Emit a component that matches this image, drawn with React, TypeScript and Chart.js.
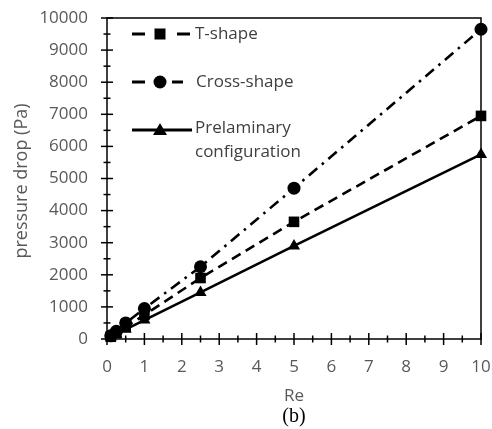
import React, { useEffect, useRef } from 'react';
import { Chart, registerables } from 'chart.js';

Chart.register(...registerables);

const reValues = [0.1, 0.25, 0.5, 1, 2.5, 5, 10];
const tShape = [70, 180, 380, 750, 1900, 3650, 6950];
const crossShape = [100, 240, 500, 950, 2250, 4700, 9650];
const prelaminary = [60, 150, 300, 590, 1450, 2900, 5750];
const seriesLabels: (string | string[])[] = ['T-shape', 'Cross-shape', ['Prelaminary', 'configuration']];
const xTickValues = [0, 1, 2, 3, 4, 5, 6, 7, 8, 9, 10];
const yTickValues = [0, 1000, 2000, 3000, 4000, 5000, 6000, 7000, 8000, 9000, 10000];
const xTitle = 'Re';
const yTitle = 'pressure drop (Pa)';
const caption = '(b)';

const FONT = '"Open Sans", sans-serif';
const GREY = '#595959';

function drawMarker(ctx: CanvasRenderingContext2D, style: string, x: number, y: number) {
  ctx.save();
  ctx.fillStyle = '#000';
  ctx.beginPath();
  if (style === 'rect') {
    ctx.rect(x - 5.5, y - 5.5, 11, 11);
  } else if (style === 'circle') {
    ctx.arc(x, y, 6.5, 0, Math.PI * 2);
  } else {
    ctx.moveTo(x, y - 7);
    ctx.lineTo(x + 7, y + 5);
    ctx.lineTo(x - 7, y + 5);
    ctx.closePath();
  }
  ctx.fill();
  ctx.restore();
}

const overlay = {
  id: 'overlay',
  beforeDatasetsDraw(chart: any) {
    const { ctx, chartArea: a, scales } = chart;
    const x = scales.x, y = scales.y;
    ctx.save();
    ctx.strokeStyle = '#000';
    ctx.lineWidth = 1.5;
    ctx.strokeRect(a.left, a.top, a.right - a.left, a.bottom - a.top);
    const seg = (x1: number, y1: number, x2: number, y2: number) => {
      ctx.beginPath();
      ctx.moveTo(x1, y1);
      ctx.lineTo(x2, y2);
      ctx.stroke();
    };
    for (let i = 0; i < xTickValues.length; i++) {
      const v = xTickValues[i];
      const px = x.getPixelForValue(v);
      seg(px, a.bottom - 6, px, a.bottom + 6);
      if (i < xTickValues.length - 1) {
        const m = x.getPixelForValue((v + xTickValues[i + 1]) / 2);
        seg(m, a.bottom - 3.5, m, a.bottom + 3.5);
      }
    }
    for (let i = 0; i < yTickValues.length; i++) {
      const v = yTickValues[i];
      const py = y.getPixelForValue(v);
      seg(a.left - 6, py, a.left + 6, py);
      if (i < yTickValues.length - 1) {
        const m = y.getPixelForValue((v + yTickValues[i + 1]) / 2);
        seg(a.left - 3.5, m, a.left + 3.5, m);
      }
    }
    ctx.restore();
  },
  afterDraw(chart: any) {
    const { ctx, chartArea: a } = chart;
    ctx.save();
    ctx.fillStyle = GREY;
    ctx.font = `17px ${FONT}`;
    ctx.textAlign = 'center';
    ctx.textBaseline = 'middle';
    ctx.fillText(xTitle, (a.left + a.right) / 2, 396);
    ctx.save();
    ctx.font = `18px ${FONT}`;
    ctx.translate(22, 181);
    ctx.rotate(-Math.PI / 2);
    ctx.fillText(yTitle, 0, 0);
    ctx.restore();
    ctx.fillStyle = '#000';
    ctx.font = '20px "Liberation Serif", serif';
    ctx.fillText(caption, (a.left + a.right) / 2, 417);

    const rows = [34, 82, 130];
    const styles = ['rect', 'circle', 'triangle'];
    ctx.strokeStyle = '#000';
    ctx.lineWidth = 3;
    ctx.lineCap = 'butt';
    const lx = a.left + 25;
    for (let i = 0; i < 3; i++) {
      const yy = rows[i];
      ctx.beginPath();
      if (i === 2) {
        ctx.moveTo(lx, yy);
        ctx.lineTo(lx + 60, yy);
      } else if (i === 0) {
        ctx.moveTo(lx, yy); ctx.lineTo(lx + 13, yy);
        ctx.moveTo(lx + 45, yy); ctx.lineTo(lx + 58, yy);
      } else {
        ctx.moveTo(lx, yy); ctx.lineTo(lx + 13, yy);
        ctx.moveTo(lx + 40, yy); ctx.lineTo(lx + 51, yy);
      }
      ctx.stroke();
      drawMarker(ctx, styles[i], lx + 28, yy);
      ctx.fillStyle = '#404040';
      ctx.font = `17px ${FONT}`;
      ctx.textAlign = 'left';
      ctx.textBaseline = 'middle';
      const lab = seriesLabels[i];
      if (Array.isArray(lab)) {
        lab.forEach((t, k) => ctx.fillText(t, lx + 63, yy - 2 + k * 24));
      } else {
        ctx.fillText(lab, lx + (i === 0 ? 63 : 64), yy);
      }
    }
    ctx.restore();
  },
};

export default function App() {
  const ref = useRef<HTMLCanvasElement>(null);
  useEffect(() => {
    if (!ref.current) return;
    const mk = (data: number[], dash: number[], style: string, radius: number) => ({
      data: reValues.map((r, i) => ({ x: r, y: data[i] })),
      borderColor: '#000',
      backgroundColor: '#000',
      borderWidth: 2.6,
      borderDash: dash,
      pointStyle: style,
      pointRadius: radius,
      pointBorderWidth: 0,
      pointBackgroundColor: '#000',
      showLine: true,
      clip: false as any,
    });
    const chart = new Chart(ref.current, {
      type: 'scatter',
      data: {
        datasets: [
          { label: 'T-shape', ...mk(tShape, [10, 6], 'rect', 7.5) },
          { label: 'Cross-shape', ...mk(crossShape, [11, 6, 2.5, 6], 'circle', 6.5) },
          { label: 'Prelaminary configuration', ...mk(prelaminary, [], 'triangle', 7) },
        ] as any,
      },
      options: {
        animation: false,
        responsive: false,
        devicePixelRatio: 1,
        layout: { padding: { left: 0, top: 18, right: 11, bottom: 0 } },
        plugins: { legend: { display: false }, tooltip: { enabled: false } },
        scales: {
          x: {
            type: 'linear',
            min: 0,
            max: 10,
            afterFit: (s: any) => { s.height = 90; s.paddingLeft = 0; s.paddingRight = 0; },
            afterBuildTicks: (s: any) => { s.ticks = xTickValues.map((v) => ({ value: v })); },
            grid: { display: false, drawTicks: false },
            border: { display: false },
            ticks: { color: GREY, font: { family: FONT, size: 17 }, padding: 18, maxRotation: 0, callback: (v: any) => String(v) },
          },
          y: {
            type: 'linear',
            min: 0,
            max: 10000,
            afterFit: (s: any) => { s.width = 107; s.paddingTop = 0; s.paddingBottom = 0; },
            afterBuildTicks: (s: any) => { s.ticks = yTickValues.map((v) => ({ value: v })); },
            grid: { display: false, drawTicks: false },
            border: { display: false },
            ticks: { color: GREY, font: { family: FONT, size: 17 }, padding: 19, callback: (v: any) => String(v) },
          },
        },
      },
      plugins: [overlay],
    });
    return () => chart.destroy();
  }, []);
  return (
    <div style={{ position: 'fixed', left: 0, top: 0, width: 492, height: 429, background: '#fff' }}>
      <canvas ref={ref} width={492} height={429} style={{ display: 'block' }} />
    </div>
  );
}
